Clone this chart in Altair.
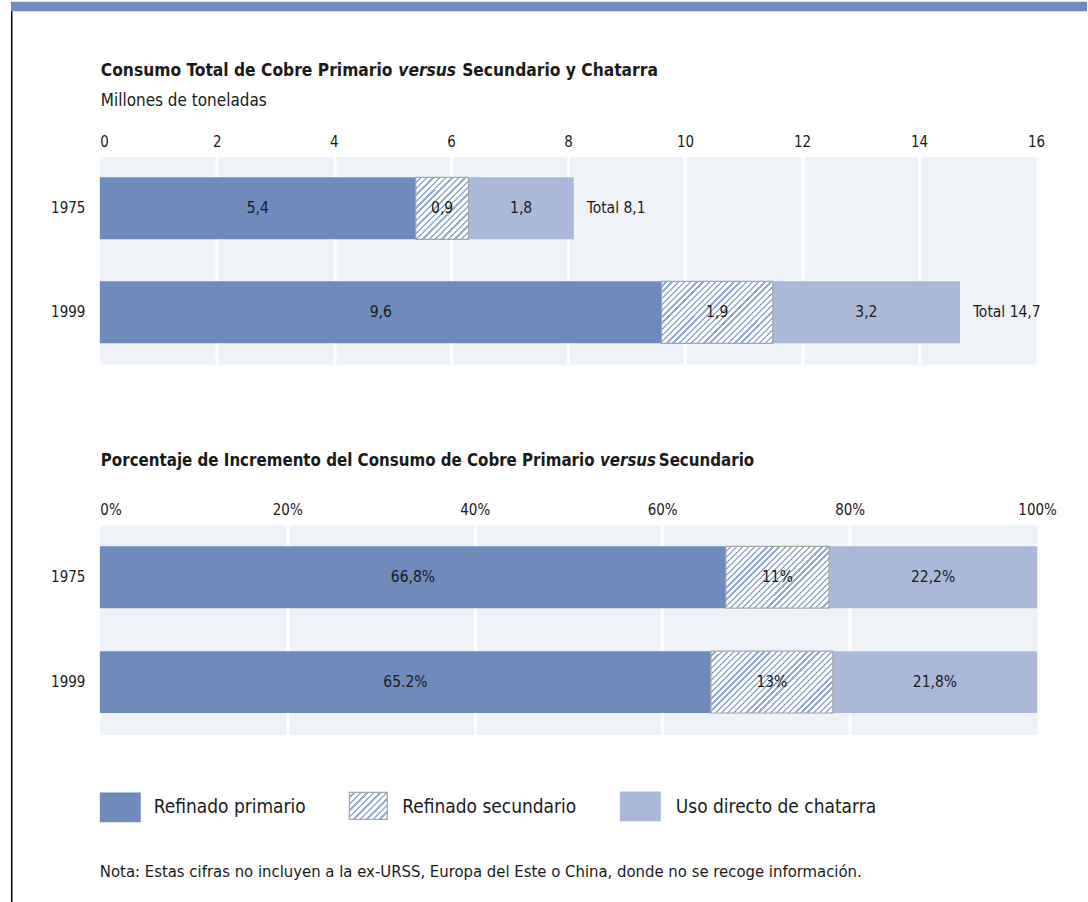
import math
import altair as alt
import pandas as pd

FONT = "Liberation Sans Narrow, Arial Narrow, DejaVu Sans Condensed, sans-serif"
INK = "#1a1a1a"
C_PRIM = "#6E8BBC"
C_CHAT = "#AAB9D9"
C_BG = "#EFF3F8"
C_BAND = "#6F8BBD"
C_HATCH = "#97ACD4"

# ---------------- data ----------------
years = ["1975", "1999"]
categories = ["Refinado primario", "Refinado secundario", "Uso directo de chatarra"]

tons_primario = [5.4, 9.6]
tons_secundario = [0.9, 1.9]
tons_chatarra = [1.8, 3.2]
tons_labels_primario = ["5,4", "9,6"]
tons_labels_secundario = ["0,9", "1,9"]
tons_labels_chatarra = ["1,8", "3,2"]
totals = [8.1, 14.7]
total_labels = ["Total 8,1", "Total 14,7"]

pct_primario = [66.8, 65.2]
pct_secundario = [11, 13]
pct_chatarra = [22.2, 21.8]
pct_labels_primario = ["66,8%", "65.2%"]
pct_labels_secundario = ["11%", "13%"]
pct_labels_chatarra = ["22,2%", "21,8%"]

ticks_tons = [0, 2, 4, 6, 8, 10, 12, 14, 16]
ticks_pct = [0, 20, 40, 60, 80, 100]

title1 = ["Consumo Total de Cobre Primario", "versus", "Secundario y Chatarra"]
subtitle1 = "Millones de toneladas"
title2 = ["Porcentaje de Incremento del Consumo de Cobre Primario", "versus", "Secundario"]
note = ("Nota: Estas cifras no incluyen a la ex-URSS, Europa del Este o China, "
        "donde no se recoge información.")

# ---------------- layout ----------------
W1, H1 = 938, 208
W2, H2 = 939, 210
PX1 = W1 / ticks_tons[-1]
PX2 = W2 / ticks_pct[-1]
BAR_H = 62
TXT = 15.5


def table(prim, sec, chat, lp, ls, lc):
    rows = []
    for i, y in enumerate(years):
        for o, (cat, v, lab) in enumerate(zip(categories, [prim[i], sec[i], chat[i]], [lp[i], ls[i], lc[i]])):
            rows.append({"year": y, "cat": cat, "order": o, "value": v, "label": lab})
    return pd.DataFrame(rows)


df1 = table(tons_primario, tons_secundario, tons_chatarra,
            tons_labels_primario, tons_labels_secundario, tons_labels_chatarra)
df2 = table(pct_primario, pct_secundario, pct_chatarra,
            pct_labels_primario, pct_labels_secundario, pct_labels_chatarra)
df_tot = pd.DataFrame({"year": years, "total": totals, "label": total_labels})
one = pd.DataFrame({"k": [0]})


def hatch(w, h, period=4.4, frac=0.38):
    """Diagonal '/' hatching as a striped linear gradient (45 degrees in pixel space)."""
    k = (w + h) / (w * w + h * h)
    n = max(1, round((w + h) / (math.sqrt(2) * period)))
    stops = []
    for i in range(n):
        a, b, c = i / n, (i + 1 - frac) / n, (i + 1) / n
        stops += [
            {"offset": a, "color": "#FFFFFF"},
            {"offset": b, "color": "#FFFFFF"},
            {"offset": b, "color": C_HATCH},
            {"offset": c, "color": C_HATCH},
        ]
    return {"gradient": "linear", "x1": 0, "y1": 0, "x2": w * k, "y2": h * k, "stops": stops}


def grid_cond(last):
    return {"condition": {"test": f"datum.value === 0 || datum.value === {last}", "value": 0}, "value": 1}


def label_align():
    return {"condition": {"test": "datum.value === 0", "value": "left"}, "value": "center"}


def bar_panel(df, xmax, ticks, px, secund, label_expr, pad_outer, pad_inner):
    xscale = alt.Scale(domain=[0, xmax], nice=False, zero=True)
    xaxis = alt.Axis(orient="top", values=ticks, grid=True, gridColor="white", gridWidth=3,
                     gridOpacity=grid_cond(xmax), domain=False, ticks=False,
                     labelFontSize=15, labelPadding=7, labelAlign=label_align(),
                     format="d", labelExpr=label_expr, title=None)
    yscale = alt.Scale(domain=years, paddingInner=pad_inner, paddingOuter=pad_outer)
    yaxis = alt.Axis(domain=False, ticks=False, labelFontSize=15, labelPadding=15, title=None)

    base = alt.Chart(df).transform_stack(
        stack="value", groupby=["year"], as_=["x0", "x1"], sort=[alt.SortField("order")]
    ).transform_calculate(mid="(datum.x0 + datum.x1) / 2")

    solid = base.transform_filter(f"datum.cat !== '{categories[1]}'").mark_bar().encode(
        x=alt.X("x0:Q", scale=xscale, axis=xaxis),
        x2="x1:Q",
        y=alt.Y("year:N", scale=yscale, axis=yaxis),
        color=alt.Color("cat:N", scale=alt.Scale(domain=[categories[0], categories[2]],
                                                  range=[C_PRIM, C_CHAT]), legend=None),
    )
    layers = [solid]
    for i, y in enumerate(years):
        w = secund[i] * px
        layers.append(
            base.transform_filter(f"datum.cat === '{categories[1]}' && datum.year === '{y}'")
            .mark_bar(fill=hatch(w, BAR_H), stroke="#A6A6A6", strokeWidth=1.2)
            .encode(x=alt.X("x0:Q"), x2="x1:Q", y=alt.Y("year:N"))
        )
    layers.append(
        base.mark_text(font=FONT, fontSize=TXT, color=INK, baseline="middle").encode(
            x=alt.X("mid:Q"), y=alt.Y("year:N"), text="label:N")
    )
    return layers


def title_layers(parts, y, xs, size):
    out = []
    for txt, x, style in zip(parts, xs, ["normal", "italic", "normal"]):
        out.append(alt.Chart(one).mark_text(
            text=txt, font=FONT, fontSize=size, fontWeight="bold", fontStyle=style,
            color=INK, align="left", baseline="alphabetic").encode(
            x=alt.value(x), y=alt.value(y)))
    return out


# ---------------- panel 1 ----------------
p1_layers = bar_panel(df1, ticks_tons[-1], ticks_tons, PX1, tons_secundario,
                      "datum.label", 0.2, 0.404)
p1_layers.append(
    alt.Chart(df_tot).mark_text(font=FONT, fontSize=TXT, color=INK, align="left", dx=13,
                                baseline="middle").encode(
        x=alt.X("total:Q"), y=alt.Y("year:N"), text="label:N")
)
p1_layers += title_layers(title1, -81, [1, 299, 363], 17.3)
p1_layers.append(alt.Chart(one).mark_text(
    text=subtitle1, font=FONT, fontSize=17, color=INK, align="left", baseline="alphabetic").encode(
    x=alt.value(1), y=alt.value(-51)))
# frame decorations: top band and left rule
p1_layers.append(alt.Chart(one).mark_rect(color=C_BAND).encode(
    x=alt.value(-89), x2=alt.value(989), y=alt.value(-155), y2=alt.value(-145.5)))
p1_layers.append(alt.Chart(one).mark_rule(color="black", strokeWidth=1.5).encode(
    x=alt.value(-88.25), y=alt.value(-145.5), y2=alt.value(747)))

p1 = alt.layer(*p1_layers).properties(
    width=W1, height=H1, view=alt.ViewBackground(fill=C_BG, stroke="transparent"))

# ---------------- panel 2 ----------------
p2_layers = bar_panel(df2, ticks_pct[-1], ticks_pct, PX2, pct_secundario,
                      "datum.value + '%'", 0.205, 0.41)
p2_layers += title_layers(title2, -59, [1, 501, 560], 16.8)

# legend (drawn below the second panel)
leg_y0, leg_y1 = 268, 298
p2_layers.append(alt.Chart(one).mark_rect(color=C_PRIM).encode(
    x=alt.value(0), x2=alt.value(41), y=alt.value(leg_y0), y2=alt.value(leg_y1)))
p2_layers.append(alt.Chart(one).mark_rect(fill=hatch(38, 27), stroke="#A6A6A6", strokeWidth=1.2).encode(
    x=alt.value(250), x2=alt.value(288), y=alt.value(leg_y0), y2=alt.value(leg_y0 + 27)))
p2_layers.append(alt.Chart(one).mark_rect(color=C_CHAT).encode(
    x=alt.value(521), x2=alt.value(562), y=alt.value(leg_y0 - 1), y2=alt.value(leg_y1 - 1)))
for txt, x in zip(categories, [54, 303, 577]):
    p2_layers.append(alt.Chart(one).mark_text(
        text=txt, font=FONT, fontSize=19, color=INK, align="left", baseline="alphabetic").encode(
        x=alt.value(x), y=alt.value(289)))
p2_layers.append(alt.Chart(one).mark_text(
    text=note, font=FONT, fontSize=16.6, color=INK, align="left", baseline="alphabetic").encode(
    x=alt.value(0), y=alt.value(353)))

p2 = alt.layer(*p2_layers).properties(
    width=W2, height=H2, view=alt.ViewBackground(fill=C_BG, stroke="transparent"))

chart = alt.vconcat(p1, p2, spacing=161, bounds="flush").properties(
    padding={"left": 10, "top": 0, "right": 0, "bottom": 0},
    background="white",
).configure_axis(labelFont=FONT, labelColor=INK)

chart.save("out.html", embed_options={"renderer": "svg", "actions": False})
